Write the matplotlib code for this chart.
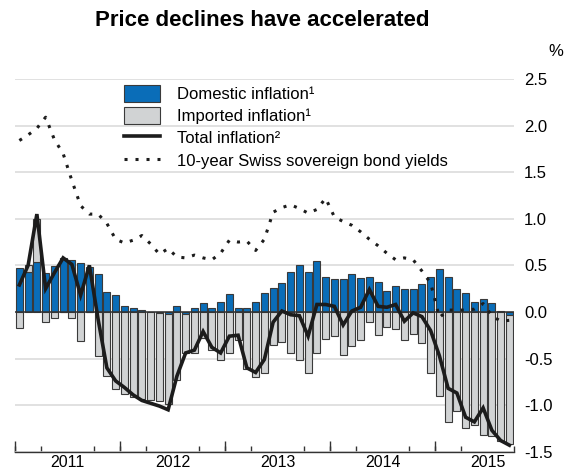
import matplotlib
matplotlib.use("Agg")
import matplotlib.pyplot as plt
from matplotlib.patches import Patch
from matplotlib.lines import Line2D
from matplotlib.ticker import FormatStrFormatter
import numpy as np
import pandas as pd

plt.rcParams["font.family"] = ["Liberation Sans", "DejaVu Sans"]
plt.rcParams["axes.unicode_minus"] = False

# monthly data, Jan 2011 - Sep 2015 (% yoy / % yield)
months = pd.period_range("2011-01", "2015-09", freq="M")

domestic = [0.47, 0.43, 0.54, 0.42, 0.49, 0.58, 0.56, 0.53, 0.48, 0.41, 0.21, 0.18,
            0.06, 0.04, 0.02, 0.00, -0.01, -0.02, 0.06, -0.02, 0.04, 0.10, 0.04, 0.11,
            0.19, 0.04, 0.04, 0.11, 0.20, 0.26, 0.31, 0.43, 0.50, 0.43, 0.55, 0.38,
            0.35, 0.35, 0.41, 0.36, 0.37, 0.32, 0.22, 0.28, 0.25, 0.25, 0.30, 0.38,
            0.46, 0.38, 0.25, 0.20, 0.11, 0.14, 0.10, 0.01, -0.03]

imported = [-0.17, 0.07, 0.46, -0.11, -0.07, 0.00, -0.07, -0.31, 0.00, -0.47, -0.69, -0.83,
            -0.88, -0.91, -0.93, -0.95, -0.95, -0.97, -0.73, -0.42, -0.44, -0.28, -0.41, -0.52,
            -0.44, -0.30, -0.61, -0.70, -0.66, -0.36, -0.32, -0.44, -0.52, -0.65, -0.44, -0.29,
            -0.26, -0.46, -0.37, -0.30, -0.11, -0.25, -0.16, -0.18, -0.30, -0.24, -0.33, -0.65,
            -0.90, -1.18, -1.06, -1.25, -1.21, -1.32, -1.33, -1.38, -1.39]

total = [0.29, 0.50, 1.05, 0.25, 0.42, 0.58, 0.51, 0.18, 0.50, -0.08, -0.60, -0.74,
         -0.81, -0.89, -0.95, -0.98, -1.01, -1.05, -0.69, -0.44, -0.41, -0.21, -0.38, -0.44,
         -0.26, -0.25, -0.60, -0.65, -0.51, -0.11, 0.01, -0.03, -0.04, -0.26, 0.08, 0.08,
         0.06, -0.14, 0.01, 0.05, 0.24, 0.06, 0.05, 0.08, -0.10, -0.01, -0.05, -0.20,
         -0.47, -0.82, -0.87, -1.13, -1.18, -1.03, -1.27, -1.38, -1.43]

bond_yields = [1.84, 1.90, 1.97, 2.09, 1.85, 1.70, 1.41, 1.14, 1.05, 1.05, 0.95, 0.78,
               0.74, 0.77, 0.82, 0.73, 0.62, 0.68, 0.59, 0.58, 0.61, 0.58, 0.56, 0.63,
               0.77, 0.75, 0.76, 0.66, 0.78, 1.07, 1.12, 1.15, 1.11, 1.06, 1.10, 1.22,
               1.02, 0.97, 0.93, 0.86, 0.78, 0.71, 0.63, 0.56, 0.58, 0.56, 0.44, 0.31,
               -0.06, 0.02, 0.02, 0.02, 0.03, 0.09, -0.04, -0.10, -0.09]

labels = ["Domestic inflation\u00b9", "Imported inflation\u00b9", "Total inflation\u00b2",
          "10-year Swiss sovereign bond yields"]

blue = "#0a6db8"
grey = "#d1d3d4"
edge = "#3a3a3a"
dark = "#1c1c1c"

x = np.arange(len(months))
dom = np.array(domestic)
imp = np.array(imported)
imp_bottom = np.where(np.sign(imp) == np.sign(dom), dom, 0)

fig = plt.figure(figsize=(5.75, 4.7), dpi=100)
ax = fig.add_axes([15 / 575, 18.3 / 470, 498.75 / 575, 372.7 / 470])

ax.bar(x, dom, width=0.8, color=blue, edgecolor=edge, linewidth=0.8, zorder=2)
ax.bar(x, imp, bottom=imp_bottom, width=0.8, color=grey, edgecolor=edge, linewidth=0.8, zorder=2)
ax.axhline(0, color="#333333", lw=1.1, zorder=3)
ax.plot(x, bond_yields, color=dark, lw=2.2, linestyle=(0, (1, 2.6)), zorder=4)
ax.plot(x, total, color=dark, lw=2.6, solid_joinstyle="miter", zorder=5)

ax.set_xlim(-0.5, len(months) - 0.5)
ax.set_ylim(-1.5, 2.5)

# y axis on the right
ax.set_yticks(np.arange(-1.5, 2.51, 0.5))
ax.yaxis.set_major_formatter(FormatStrFormatter("%.1f"))
ax.yaxis.tick_right()
ax.tick_params(axis="y", length=0, pad=7.5, labelsize=12)
ax.yaxis.grid(True, color="#d9d9d9", lw=1.1)
ax.set_axisbelow(True)

for s in ["top", "left", "right"]:
    ax.spines[s].set_visible(False)
ax.spines["bottom"].set_color("#333333")
ax.spines["bottom"].set_linewidth(1.0)

# x axis: years centred, quarterly ticks, longer ticks at year ends
edges = pd.period_range("2011-01", "2015-10", freq="M")
pos = np.arange(len(edges)) - 0.5
quarter_edges = [p for p, m in zip(pos, edges) if m.month in (1, 4, 7, 10)]
year_edges = [p for p, m in zip(pos, edges) if m.month == 1]
years = sorted(set(m.year for m in months))
year_mid = [p + 6 for p in year_edges]

ax.set_xticks(year_mid, labels=[str(y) for y in years])
ax.tick_params(axis="x", which="major", length=0, pad=2.5, labelsize=11.5)
ax.set_xticks(quarter_edges, minor=True)
ax.tick_params(axis="x", which="minor", direction="in", length=4, width=1, color="#333333")

sec = ax.secondary_xaxis("bottom")
sec.set_xticks(year_edges, labels=[])
sec.tick_params(direction="in", length=8, width=1, color="#333333")
sec.spines["bottom"].set_visible(False)

handles = [Patch(facecolor=blue, edgecolor=edge, lw=0.8),
           Patch(facecolor=grey, edgecolor=edge, lw=0.8),
           Line2D([], [], color=dark, lw=2.6),
           Line2D([], [], color=dark, lw=2.2, linestyle=(0, (1, 2.6)))]
fig.legend(handles, labels, loc="upper left", bbox_to_anchor=(124 / 575, 1 - 85 / 470),
           frameon=False, fontsize=12, borderpad=0, borderaxespad=0, handlelength=2.15,
           handleheight=1.15, labelspacing=0.32, handletextpad=1.05)

fig.text(262 / 575, 1 - 20 / 470, "Price declines have accelerated", ha="center",
         va="center", fontsize=16, fontweight="bold")
fig.text(556 / 575, 1 - 52 / 470, "%", ha="center", va="center", fontsize=12)

fig.savefig("out.png", dpi=100)
